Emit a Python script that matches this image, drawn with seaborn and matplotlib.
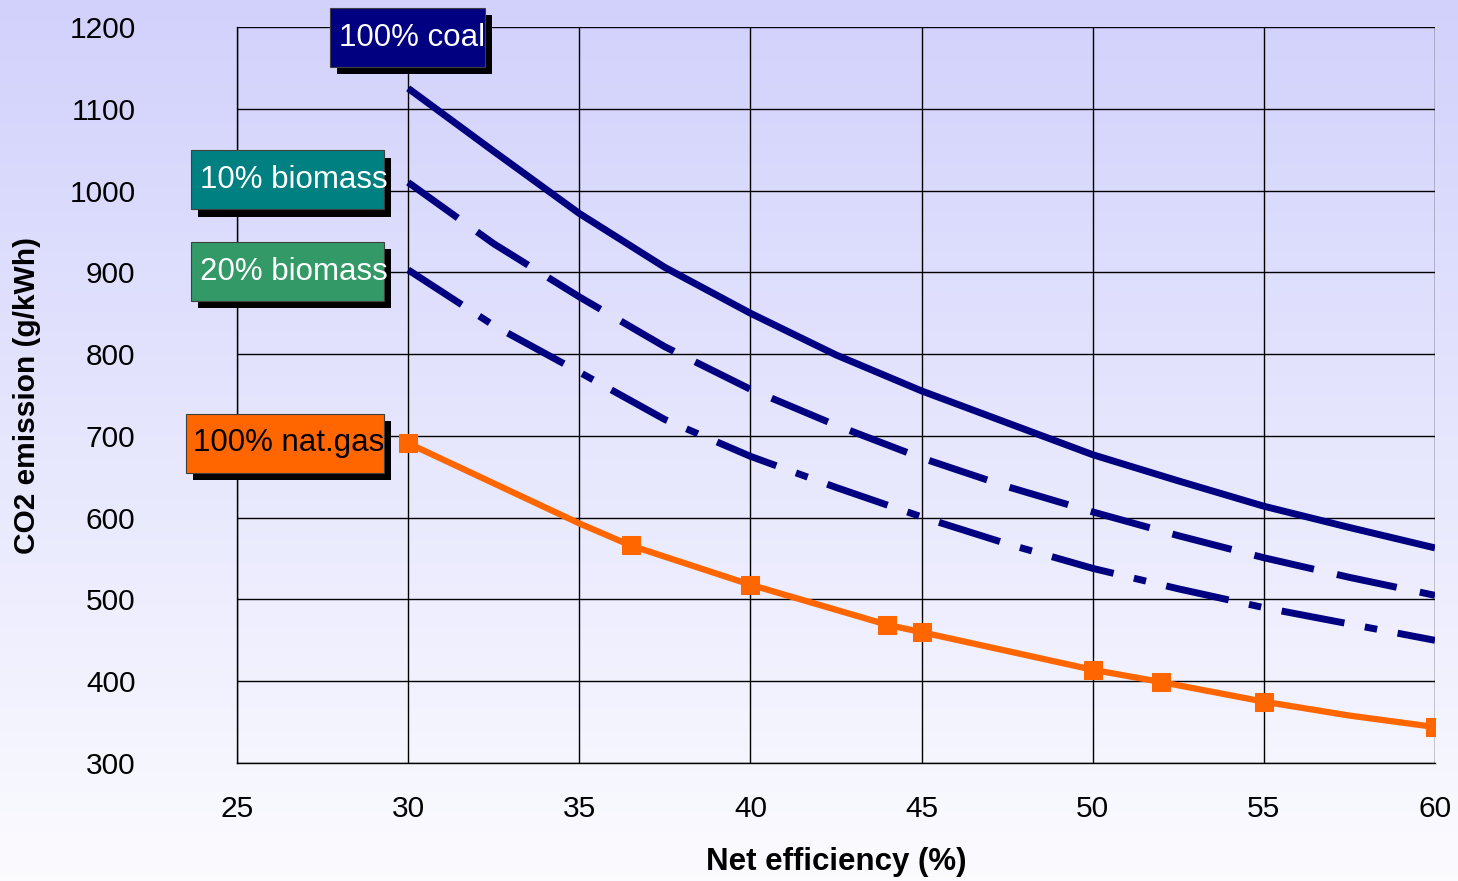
import numpy as np
import pandas as pd
import matplotlib
matplotlib.use("Agg")
import matplotlib.pyplot as plt
from matplotlib.patches import Rectangle
import seaborn as sns

# ---- data: CO2 emission (g/kWh) against net plant efficiency (%) ----
eff_coal = [30, 32.5, 35, 37.5, 40, 42.5, 45, 47.5, 50, 52.5, 55, 57.5, 60]
co2_coal = [1125, 1048, 972, 906, 850, 799, 755, 716, 677, 645, 614, 588, 563]

eff_bio10 = [30, 32.5, 35, 37.5, 40, 42.5, 45, 47.5, 50, 52.5, 55, 57.5, 60]
co2_bio10 = [1010, 935, 870, 809, 757, 713, 673, 638, 607, 578, 551, 527, 505]

eff_bio20 = [30, 32.5, 35, 37.5, 40, 42.5, 45, 47.5, 50, 52.5, 55, 57.5, 60]
co2_bio20 = [903, 835, 778, 720, 675, 637, 601, 568, 538, 513, 490, 470, 450]

eff_gas = [30, 35, 36.5, 40, 44, 45, 47.5, 50, 52, 55, 57.5, 60]
co2_gas = [691, 593, 566, 518, 469, 460, 437, 414, 399, 375, 358, 344]
gas_marked = [0, 2, 3, 4, 5, 7, 8, 9, 11]   # points carrying a square marker

x_ticks = [25, 30, 35, 40, 45, 50, 55, 60]
y_ticks = [300, 400, 500, 600, 700, 800, 900, 1000, 1100, 1200]

# ---- styling ----
sns.set_style("white")
plt.rcParams["font.family"] = ["Liberation Sans", "DejaVu Sans"]
plt.rcParams["text.color"] = "black"
plt.rcParams["axes.labelcolor"] = "black"

NAVY = "#000080"
ORANGE = "#FF6600"
TAG_COLORS = {"100% coal": (NAVY, "white"),
              "10% biomass": ("#008080", "white"),
              "20% biomass": ("#339966", "white"),
              "100% nat.gas": (ORANGE, "black")}

fig = plt.figure(figsize=(14.58, 8.81), dpi=100)

# soft lavender-to-white backdrop
bg = fig.add_axes([0, 0, 1, 1], zorder=-10)
grad = np.linspace(0, 1, 256)[:, None]
top = np.array([0.82, 0.82, 0.99])
bot = np.array([0.985, 0.985, 1.0])
img = top[None, None, :] * (1 - grad[..., None]) + bot[None, None, :] * grad[..., None]
bg.imshow(img, aspect="auto", extent=[0, 1, 0, 1])
bg.set_axis_off()

ax = fig.add_axes([237 / 1458, 1 - 763 / 881, (1435 - 237) / 1458, (763 - 27) / 881])
ax.set_facecolor("none")

df_coal = pd.DataFrame({"eff": eff_coal, "co2": co2_coal})
df_b10 = pd.DataFrame({"eff": eff_bio10, "co2": co2_bio10})
df_b20 = pd.DataFrame({"eff": eff_bio20, "co2": co2_bio20})
df_gas = pd.DataFrame({"eff": eff_gas, "co2": co2_gas})

sns.lineplot(data=df_coal, x="eff", y="co2", ax=ax, color=NAVY, lw=5,
             solid_capstyle="butt", zorder=4)
l10 = sns.lineplot(data=df_b10, x="eff", y="co2", ax=ax, color=NAVY, lw=5,
                   zorder=4).lines[-1]
l10.set_dashes((8.8, 3.4))
l10.set_dash_capstyle("butt")
l20 = sns.lineplot(data=df_b20, x="eff", y="co2", ax=ax, color=NAVY, lw=5,
                   zorder=4).lines[-1]
l20.set_dashes((9.2, 3.0, 1.8, 3.0))
l20.set_dash_capstyle("butt")
sns.lineplot(data=df_gas, x="eff", y="co2", ax=ax, color=ORANGE, lw=4.5,
             marker="s", markersize=13, markeredgecolor=ORANGE,
             markevery=gas_marked, zorder=5)

ax.set_xlim(25, 60)
ax.set_ylim(300, 1200)
ax.set_xticks(x_ticks)
ax.set_yticks(y_ticks)
ax.grid(True, color="black", lw=1)
ax.set_axisbelow(True)
for side in ("top", "right"):
    ax.spines[side].set_visible(False)
for side in ("left", "bottom"):
    ax.spines[side].set_color("black")
    ax.spines[side].set_linewidth(1)
ax.tick_params(axis="both", direction="out", length=8, width=1, color="black",
               labelsize=21.5, labelcolor="black")
ax.tick_params(axis="y", pad=65)
ax.tick_params(axis="x", pad=15)

ax.set_xlabel("Net efficiency (%)", fontsize=22.5, fontweight="bold", color="black")
ax.set_ylabel("CO2 emission (g/kWh)", fontsize=21.5, fontweight="bold", color="black")
ax.xaxis.label.set_va("center")
ax.yaxis.label.set_va("center")
ax.xaxis.set_label_coords(0.5, -0.1345)
ax.yaxis.set_label_coords(-0.1755, 0.5)

# ---- labelled tags with drop shadow ----
SHADOW_DX, SHADOW_DY = 0.21, 8.8


def tag(text, x0, x1, yc, half_h=36, text_dx=0.25):
    face, tcol = TAG_COLORS[text]
    ax.add_patch(Rectangle((x0 + SHADOW_DX, yc - half_h - SHADOW_DY), x1 - x0, 2 * half_h,
                           facecolor="black", edgecolor="none", clip_on=False, zorder=6))
    ax.add_patch(Rectangle((x0, yc - half_h), x1 - x0, 2 * half_h,
                           facecolor=face, edgecolor="#404040", lw=0.8,
                           clip_on=False, zorder=7))
    ax.text(x0 + text_dx, yc, text, color=tcol, fontsize=22.5, ha="left",
            va="center", zorder=8, clip_on=False)


tag("100% coal", 27.72, 32.25, 1187)
tag("10% biomass", 23.66, 29.29, co2_bio10[0] + 3)
tag("20% biomass", 23.66, 29.29, co2_bio20[0] - 2)
tag("100% nat.gas", 23.51, 29.29, co2_gas[0], text_dx=0.2)

fig.savefig("out.png", dpi=100)
